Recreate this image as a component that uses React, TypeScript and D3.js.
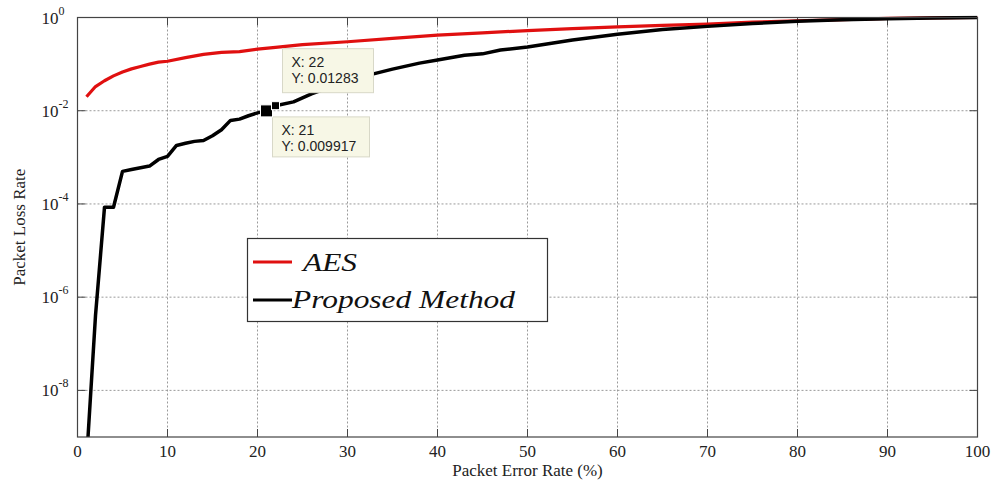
import React from "react";
import * as d3 from "d3";

const W = 995;
const H = 488;

const xTicks = [0, 10, 20, 30, 40, 50, 60, 70, 80, 90, 100];
const yExponents = [0, -2, -4, -6, -8];

const aesX = [1, 2, 3, 4, 5, 6, 7, 8, 9, 10, 12, 14, 16, 18, 20, 22, 25, 30, 35, 40, 45, 50, 55, 60, 65, 70, 75, 80, 85, 90, 95, 100];
const aesY = [0.02, 0.033, 0.044, 0.056, 0.068, 0.079, 0.089, 0.1, 0.11, 0.115, 0.138, 0.162, 0.178, 0.186, 0.209, 0.229, 0.263, 0.302, 0.355, 0.42, 0.468, 0.525, 0.575, 0.63, 0.676, 0.724, 0.794, 0.851, 0.9, 0.955, 0.98, 1];

const propX = [1, 2, 3, 4, 5, 6, 7, 8, 9, 10, 11, 12, 13, 14, 15, 16, 17, 18, 19, 20, 21, 22, 24, 26, 28, 30, 32, 35, 38, 40, 43, 45, 47, 50, 55, 60, 65, 70, 75, 80, 85, 90, 95, 100];
const propY = [3e-10, 4e-7, 8.5e-5, 8.5e-5, 5e-4, 5.5e-4, 6e-4, 6.5e-4, 9e-4, 1.05e-3, 1.8e-3, 2e-3, 2.2e-3, 2.3e-3, 2.9e-3, 3.9e-3, 6.2e-3, 6.6e-3, 7.8e-3, 9e-3, 0.009917, 0.01283, 0.0155, 0.023, 0.0316, 0.042, 0.056, 0.078, 0.105, 0.123, 0.155, 0.166, 0.2, 0.234, 0.33, 0.436, 0.55, 0.645, 0.74, 0.83, 0.89, 0.945, 0.977, 1];

const tipX = [21, 22];
const tipY = [0.009917, 0.01283];
const tipLabelsX = ["X: 21", "X: 22"];
const tipLabelsY = ["Y: 0.009917", "Y: 0.01283"];

const legendLabels = ["AES", "Proposed Method"];
const legendColors = ["#e01010", "#000000"];

const xTitle = "Packet Error Rate (%)";
const yTitle = "Packet Loss Rate";

export default function App() {
  const L = 77.5, R = 977.5, T = 17.5, B = 437;
  const x = d3.scaleLinear().domain([0, 100]).range([L, R]);
  const y = d3.scaleLog().domain([1e-9, 1]).range([B, T]);
  const line = d3
    .line<[number, number]>()
    .x((d) => x(d[0]))
    .y((d) => y(d[1]));
  const aes = aesX.map((v, i) => [v, aesY[i]] as [number, number]);
  const prop = propX.map((v, i) => [v, propY[i]] as [number, number]);
  const serif = "'Liberation Serif', 'Times New Roman', serif";
  const sans = "'Liberation Sans', Arial, sans-serif";
  const axisColor = "#444";

  const tipBoxes = [
    { dx: 6, dy: 6, w: 97, h: 40 },
    { dx: 7, dy: -57, w: 91, h: 44 },
  ];

  return (
    <svg
      width={W}
      height={H}
      style={{ position: "absolute", left: 0, top: 0, background: "#fff" }}
    >
      <defs>
        <clipPath id="plotClip">
          <rect x={L} y={T - 2} width={R - L} height={B - T + 2} />
        </clipPath>
      </defs>
      <g stroke="#9a9a9a" strokeWidth={1} strokeDasharray="2,2">
        {xTicks.slice(1, -1).map((t) => (
          <line key={"gx" + t} x1={x(t)} x2={x(t)} y1={T} y2={B} />
        ))}
        {yExponents.slice(1).map((e) => (
          <line key={"gy" + e} x1={L} x2={R} y1={y(Math.pow(10, e))} y2={y(Math.pow(10, e))} />
        ))}
      </g>
      <g stroke={axisColor} strokeWidth={1}>
        {xTicks.map((t) => (
          <g key={"tx" + t}>
            <line x1={x(t)} x2={x(t)} y1={B} y2={B - 8} />
            <line x1={x(t)} x2={x(t)} y1={T} y2={T + 8} />
          </g>
        ))}
        {yExponents.map((e) => (
          <g key={"ty" + e}>
            <line x1={L} x2={L + 8} y1={y(Math.pow(10, e))} y2={y(Math.pow(10, e))} />
            <line x1={R} x2={R - 8} y1={y(Math.pow(10, e))} y2={y(Math.pow(10, e))} />
          </g>
        ))}
      </g>
      <g clipPath="url(#plotClip)" fill="none" strokeLinejoin="round">
        <path d={line(aes) || ""} stroke={legendColors[0]} strokeWidth={3.2} />
        <path d={line(prop) || ""} stroke={legendColors[1]} strokeWidth={3.5} />
      </g>
      <rect x={L} y={T} width={R - L} height={B - T} fill="none" stroke={axisColor} strokeWidth={1.2} />
      <g fontFamily={serif} fontSize={17} fill="#222" textAnchor="middle">
        {xTicks.map((t) => (
          <text key={"lx" + t} x={x(t)} y={B + 20}>
            {t}
          </text>
        ))}
      </g>
      <g fontFamily={serif} fill="#222">
        {yExponents.map((e) => (
          <text key={"ly" + e} x={L - 36} y={y(Math.pow(10, e)) + 6} fontSize={17}>
            10
            <tspan dy={-9} fontSize={12}>
              {e}
            </tspan>
          </text>
        ))}
      </g>
      <text x={(L + R) / 2} y={476} fontFamily={serif} fontSize={17} textAnchor="middle" fill="#222">
        {xTitle}
      </text>
      <text
        transform={`translate(25,${(T + B) / 2}) rotate(-90)`}
        fontFamily={serif}
        fontSize={17}
        textAnchor="middle"
        fill="#222"
      >
        {yTitle}
      </text>
      {tipX.map((tx, i) => {
        const px = x(tx);
        const py = y(tipY[i]);
        const b = tipBoxes[i];
        return (
          <g key={"tip" + i}>
            <rect
              x={px + b.dx}
              y={py + b.dy}
              width={b.w}
              height={b.h}
              fill="#f7f7e6"
              stroke="#d8d8c8"
              strokeWidth={1}
            />
            <text x={px + b.dx + 9} y={py + b.dy + 18} fontFamily={sans} fontSize={14} fill="#222">
              {tipLabelsX[i]}
            </text>
            <text x={px + b.dx + 9} y={py + b.dy + 34} fontFamily={sans} fontSize={14} fill="#222">
              {tipLabelsY[i]}
            </text>
          </g>
        );
      })}
      {tipX.map((tx, i) => (
        <rect
          key={"mk" + i}
          x={x(tx) - (i === 0 ? 6 : 4)}
          y={y(tipY[i]) - (i === 0 ? 6 : 4)}
          width={i === 0 ? 12 : 8}
          height={i === 0 ? 12 : 8}
          fill="#000"
          stroke="#fff"
          strokeWidth={1}
        />
      ))}
      <g>
        <rect x={247.5} y={238.5} width={300} height={83} fill="#fff" stroke="#333" strokeWidth={1.2} />
        {legendLabels.map((lab, i) => (
          <g key={"lg" + i}>
            <line
              x1={253}
              x2={292}
              y1={262 + i * 38}
              y2={262 + i * 38}
              stroke={legendColors[i]}
              strokeWidth={3.2}
            />
            <text
              x={i === 0 ? 303 : 292}
              y={271 + i * 37}
              fontFamily={serif}
              fontStyle="italic"
              fontSize={26}
              fill="#111"
              textLength={i === 0 ? 54 : 223}
              lengthAdjust="spacingAndGlyphs"
            >
              {lab}
            </text>
          </g>
        ))}
      </g>
    </svg>
  );
}
